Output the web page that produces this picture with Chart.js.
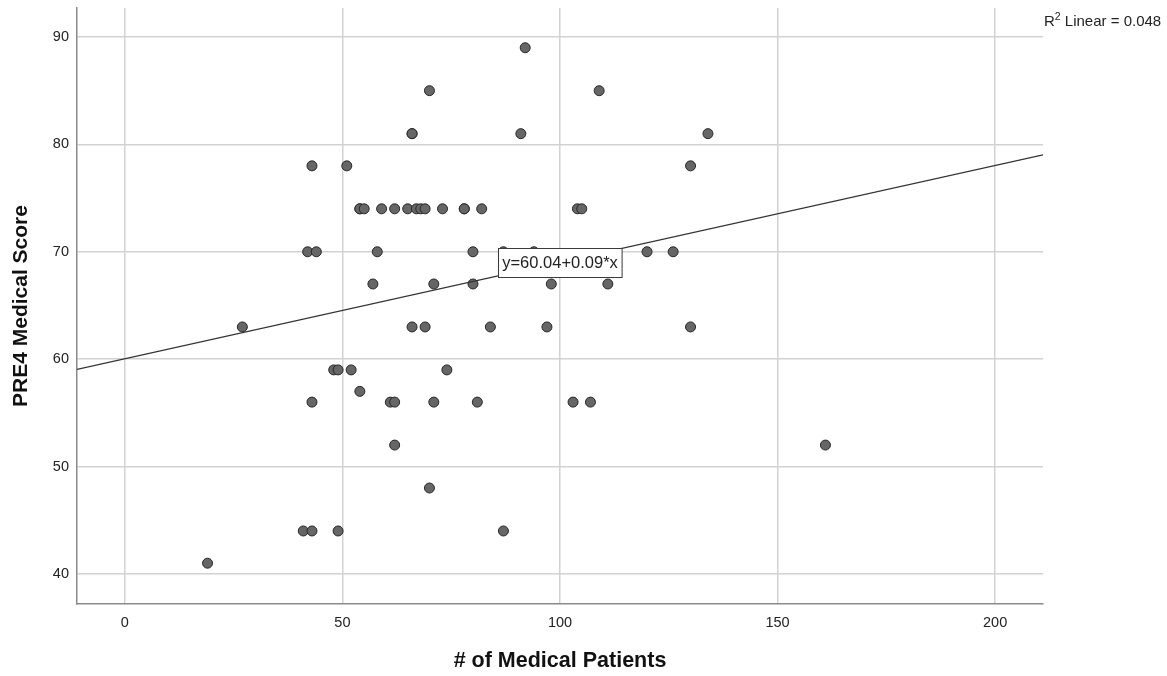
<!DOCTYPE html>
<html>
<head>
<meta charset="utf-8">
<script src="https://cdn.jsdelivr.net/npm/chart.js@4.4.1/dist/chart.umd.min.js"></script>
<style>
  html, body { margin: 0; padding: 0; background: #fff; }
</style>
</head>
<body>
<canvas id="grafico" width="1167" height="676"></canvas>
<script>
// # of medical patients (x) and PRE4 medical score (y)
var medicalPatients = [19, 27, 41, 43, 49, 43, 51, 42, 44, 43, 48, 49, 52, 54, 54, 54, 55, 57, 58, 59,
  61, 62, 62, 62, 65, 66, 66, 66, 67, 68, 69, 69, 70, 70, 71, 71, 73, 74, 78, 78,
  80, 80, 81, 82, 84, 87, 87, 91, 92, 94, 97, 98, 103, 104, 105, 107, 109, 111, 120, 126,
  130, 130, 134, 161];
var pre4Score = [41, 63, 44, 44, 44, 78, 78, 70, 70, 56, 59, 59, 59, 57, 74, 74, 74, 67, 70, 74,
  56, 56, 74, 52, 74, 81, 81, 63, 74, 74, 74, 63, 85, 48, 67, 56, 74, 59, 74, 74,
  70, 67, 56, 74, 63, 44, 70, 81, 89, 70, 63, 67, 56, 74, 74, 56, 85, 67, 70, 70,
  78, 63, 81, 52];

// linear fit as printed on the chart
var fitIntercept = 60.04;
var fitSlope = 0.09;
var rSquared = 0.048;
var fitLabelAt = 100;

var xMin = -11, xMax = 211;
var yMin = 37.2, yMax = 92.7;

var fonte = '"Liberation Sans", Arial, sans-serif';

var pontos = medicalPatients.map(function (v, i) {
  return { x: v, y: pre4Score[i] };
});

var linhaAjuste = [xMin, xMax].map(function (v) {
  return { x: v, y: fitIntercept + fitSlope * v };
});

var rotulos = {
  id: 'rotulos',
  afterDatasetsDraw: function (chart) {
    var ctx = chart.ctx;
    var px = chart.scales.x.getPixelForValue(fitLabelAt);
    var py = chart.scales.y.getPixelForValue(fitIntercept + fitSlope * fitLabelAt);
    var txt = 'y=' + fitIntercept.toFixed(2) + '+' + fitSlope.toFixed(2) + '*x';

    ctx.save();
    ctx.font = '16.5px ' + fonte;
    var w = ctx.measureText(txt).width + 8;
    var h = 29;
    var bx = Math.round(px - w / 2) + 0.5;
    var by = Math.round(py - h / 2) + 0.5;
    ctx.fillStyle = '#fff';
    ctx.fillRect(bx, by, w, h);
    ctx.strokeStyle = '#3a3a3a';
    ctx.lineWidth = 1;
    ctx.strokeRect(bx, by, w, h);
    ctx.fillStyle = '#222';
    ctx.textAlign = 'center';
    ctx.textBaseline = 'middle';
    ctx.fillText(txt, px, py + 1);

    // R2 note top right
    var area = chart.chartArea;
    var x0 = area.right + 1;
    var base = 26;
    ctx.textAlign = 'left';
    ctx.textBaseline = 'alphabetic';
    ctx.font = '15px ' + fonte;
    ctx.fillText('R', x0, base);
    x0 += ctx.measureText('R').width;
    ctx.font = '10.5px ' + fonte;
    ctx.fillText('2', x0, base - 6);
    x0 += ctx.measureText('2').width;
    ctx.font = '15px ' + fonte;
    ctx.fillText(' Linear = ' + rSquared.toFixed(3), x0, base);
    ctx.restore();
  }
};

var ctx = document.getElementById('grafico').getContext('2d');
var chart = new Chart(ctx, {
  type: 'scatter',
  data: {
    datasets: [{
      type: 'line',
      label: 'Linear',
      data: linhaAjuste,
      borderColor: '#333',
      borderWidth: 1.2,
      pointRadius: 0,
      fill: false
    }, {
      label: 'PRE4 Medical Score',
      data: pontos,
      pointRadius: 5,
      backgroundColor: '#666',
      borderColor: '#262626',
      borderWidth: 1
    }]
  },
  options: {
    responsive: false,
    animation: false,
    layout: { autoPadding: false, padding: { top: 8, right: 124, left: 0, bottom: 0 } },
    plugins: {
      legend: { display: false },
      tooltip: { enabled: false }
    },
    scales: {
      x: {
        type: 'linear',
        min: xMin,
        max: xMax,
        afterFit: function (s) {
          s.height = 72;
          s.paddingLeft = 0;
          s.paddingRight = 0;
        },
        ticks: {
          stepSize: 50,
          includeBounds: false,
          padding: 10,
          color: '#222',
          font: { family: fonte, size: 14.5 }
        },
        grid: { color: '#d2d2d2', lineWidth: 1.5, drawTicks: false },
        border: { color: '#8a8a8a', width: 1.5 },
        title: {
          display: true,
          text: '# of Medical Patients',
          color: '#111',
          font: { family: fonte, size: 21.5, weight: 'bold' },
          padding: { top: 0, bottom: 2 }
        }
      },
      y: {
        type: 'linear',
        min: yMin,
        max: yMax,
        afterFit: function (s) {
          s.width = 77;
          s.paddingTop = 0;
          s.paddingBottom = 0;
        },
        ticks: {
          stepSize: 10,
          includeBounds: false,
          padding: 8,
          color: '#222',
          font: { family: fonte, size: 14.5 }
        },
        grid: { color: '#d2d2d2', lineWidth: 1.5, drawTicks: false },
        border: { color: '#8a8a8a', width: 1.5 },
        title: {
          display: true,
          text: 'PRE4 Medical Score',
          color: '#111',
          font: { family: fonte, size: 21, weight: 'bold' },
          padding: { top: 9, bottom: 0 }
        }
      }
    }
  },
  plugins: [rotulos]
});
</script>
</body>
</html>
